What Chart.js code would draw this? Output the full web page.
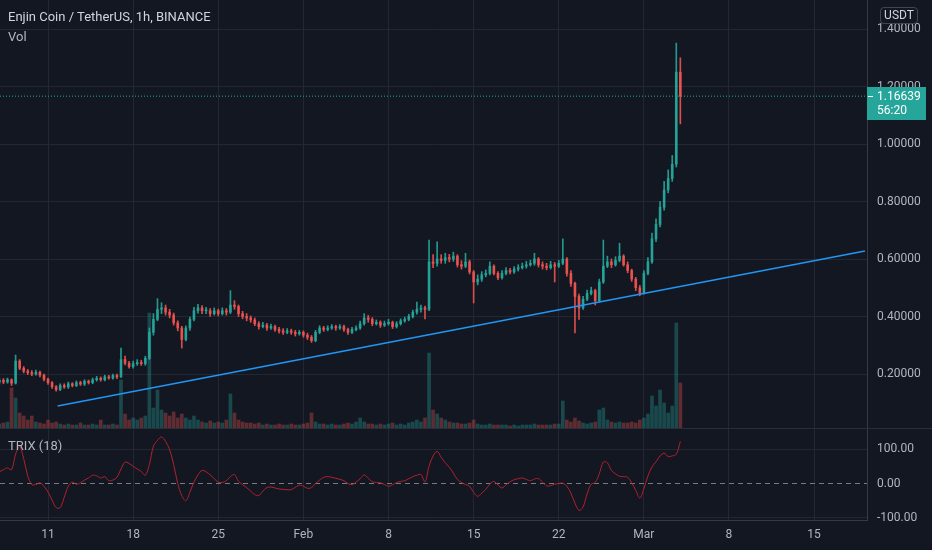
<!DOCTYPE html>
<html>
<head>
<meta charset="utf-8">
<title>ENJUSDT 1h</title>
<script src="https://cdn.jsdelivr.net/npm/chart.js@4.4.1/dist/chart.umd.min.js"></script>
<style>
  html, body { margin: 0; padding: 0; background: #131722; }
  #wrap { position: relative; width: 932px; height: 550px; overflow: hidden; background: #131722; font-family: Roboto, "Noto Sans", sans-serif; }
  #main { position: absolute; left: 0; top: 0; }
  #trix { position: absolute; left: 0; top: 428px; }
  .txt { position: absolute; white-space: nowrap; font-size: 13px; line-height: 16px; }
  #sep { position: absolute; left: 0; top: 428px; width: 932px; height: 1px; background: #2a2e39; }
  #unit { position: absolute; left: 880px; top: 7px; width: 36px; height: 15px; border: 1px solid #434651; border-radius: 4px;
          color: #d1d4dc; font-size: 12px; line-height: 15px; text-align: center; }
</style>
</head>
<body>
<div id="wrap">
  <canvas id="main" width="932" height="428"></canvas>
  <canvas id="trix" width="932" height="122"></canvas>
  <div id="sep"></div>
  <div class="txt" style="left:8px;top:9px;color:#d1d4dc;">Enjin Coin / TetherUS, 1h, BINANCE</div>
  <div class="txt" style="left:8px;top:29px;color:#b2b5be;">Vol</div>
  <div class="txt" style="left:8px;top:438px;color:#b2b5be;">TRIX (18)</div>
  <div id="unit">USDT</div>
</div>
<script>
// ENJ/USDT, 8h buckets (x = days since Jan 7)
var tickDays = [4, 11, 18, 25, 32, 39, 46, 53, 60, 67];
var tickLabels = ['11', '18', '25', 'Feb', '8', '15', '22', 'Mar', '8', '15'];
var priceTicks = [0.2, 0.4, 0.6, 0.8, 1.0, 1.2, 1.4];
var trixTicks = [-100, 0, 100];

var opens = [0.172,0.178,0.172,0.180,0.168,0.245,0.220,0.210,0.205,0.200,
 0.206,0.196,0.182,0.170,0.156,0.146,0.160,0.155,0.166,0.160,
 0.170,0.165,0.175,0.170,0.180,0.185,0.180,0.190,0.186,0.195,
 0.190,0.250,0.238,0.226,0.236,0.240,0.236,0.255,0.345,0.390,
 0.425,0.430,0.415,0.405,0.378,0.360,0.320,0.360,0.390,0.420,
 0.430,0.420,0.420,0.410,0.420,0.410,0.420,0.415,0.440,0.435,
 0.410,0.400,0.395,0.388,0.375,0.365,0.370,0.360,0.365,0.355,
 0.350,0.345,0.350,0.345,0.340,0.345,0.335,0.328,0.316,0.345,
 0.360,0.355,0.360,0.365,0.360,0.365,0.355,0.345,0.355,0.360,
 0.375,0.395,0.390,0.375,0.380,0.370,0.375,0.380,0.365,0.375,
 0.385,0.390,0.400,0.415,0.425,0.430,0.425,0.590,0.585,0.600,
 0.595,0.605,0.600,0.610,0.580,0.575,0.590,0.555,0.520,0.530,
 0.545,0.550,0.575,0.550,0.535,0.550,0.560,0.555,0.565,0.570,
 0.575,0.580,0.585,0.600,0.580,0.575,0.570,0.580,0.575,0.585,
 0.600,0.550,0.515,0.470,0.430,0.460,0.480,0.490,0.455,0.520,
 0.575,0.590,0.580,0.595,0.610,0.580,0.560,0.530,0.500,0.480,
 0.550,0.590,0.670,0.720,0.780,0.840,0.880,0.930,1.250];

var closes = [0.178,0.172,0.180,0.168,0.245,0.220,0.210,0.205,0.200,0.206,
 0.196,0.182,0.170,0.156,0.146,0.160,0.155,0.166,0.160,0.170,
 0.165,0.175,0.170,0.180,0.185,0.180,0.190,0.186,0.195,0.190,
 0.250,0.238,0.226,0.236,0.240,0.236,0.255,0.345,0.390,0.425,
 0.430,0.415,0.405,0.378,0.360,0.320,0.360,0.390,0.420,0.430,
 0.420,0.420,0.410,0.420,0.410,0.420,0.415,0.440,0.435,0.410,
 0.400,0.395,0.388,0.375,0.365,0.370,0.360,0.365,0.355,0.350,
 0.345,0.350,0.345,0.340,0.345,0.335,0.328,0.316,0.345,0.360,
 0.355,0.360,0.365,0.360,0.365,0.355,0.345,0.355,0.360,0.375,
 0.395,0.390,0.375,0.380,0.370,0.375,0.380,0.365,0.375,0.385,
 0.390,0.400,0.415,0.425,0.430,0.425,0.590,0.585,0.600,0.595,
 0.605,0.600,0.610,0.580,0.575,0.590,0.555,0.520,0.530,0.545,
 0.550,0.575,0.550,0.535,0.550,0.560,0.555,0.565,0.570,0.575,
 0.580,0.585,0.600,0.580,0.575,0.570,0.580,0.575,0.585,0.600,
 0.550,0.515,0.470,0.430,0.460,0.480,0.490,0.455,0.520,0.575,
 0.590,0.580,0.595,0.610,0.580,0.560,0.530,0.500,0.480,0.550,
 0.590,0.670,0.720,0.780,0.840,0.880,0.930,1.250,1.16639];

var highs = [0.185,0.184,0.186,0.183,0.266,0.250,0.226,0.216,0.212,0.214,
 0.210,0.200,0.186,0.174,0.160,0.166,0.166,0.172,0.170,0.176,
 0.175,0.180,0.179,0.186,0.192,0.190,0.196,0.195,0.200,0.200,
 0.290,0.262,0.244,0.245,0.250,0.248,0.262,0.360,0.410,0.462,
 0.448,0.440,0.425,0.412,0.385,0.366,0.368,0.398,0.432,0.442,
 0.438,0.432,0.428,0.430,0.426,0.430,0.428,0.490,0.455,0.440,
 0.418,0.410,0.402,0.395,0.382,0.380,0.376,0.374,0.370,0.362,
 0.358,0.358,0.356,0.352,0.352,0.350,0.342,0.334,0.352,0.368,
 0.366,0.368,0.372,0.370,0.372,0.370,0.360,0.362,0.368,0.384,
 0.410,0.404,0.396,0.388,0.385,0.384,0.390,0.384,0.382,0.392,
 0.398,0.408,0.422,0.450,0.440,0.436,0.666,0.615,0.660,0.615,
 0.620,0.616,0.624,0.615,0.594,0.620,0.596,0.560,0.545,0.556,
 0.562,0.590,0.580,0.556,0.560,0.570,0.568,0.574,0.580,0.586,
 0.592,0.596,0.620,0.605,0.590,0.585,0.592,0.588,0.595,0.670,
 0.605,0.560,0.520,0.478,0.470,0.492,0.502,0.495,0.530,0.666,
 0.610,0.600,0.608,0.655,0.615,0.590,0.565,0.536,0.508,0.560,
 0.605,0.690,0.740,0.800,0.870,0.910,0.960,1.351,1.300];

var lows = [0.165,0.166,0.168,0.160,0.165,0.215,0.204,0.198,0.194,0.196,
 0.190,0.176,0.164,0.150,0.140,0.142,0.150,0.150,0.155,0.156,
 0.160,0.160,0.165,0.166,0.175,0.175,0.176,0.182,0.182,0.184,
 0.188,0.232,0.220,0.220,0.230,0.230,0.230,0.250,0.335,0.385,
 0.410,0.405,0.395,0.370,0.350,0.290,0.315,0.352,0.385,0.412,
 0.410,0.410,0.400,0.405,0.402,0.405,0.405,0.410,0.425,0.400,
 0.392,0.385,0.380,0.368,0.356,0.360,0.352,0.355,0.348,0.342,
 0.338,0.340,0.338,0.332,0.335,0.328,0.320,0.310,0.312,0.340,
 0.348,0.350,0.355,0.352,0.355,0.348,0.338,0.340,0.350,0.355,
 0.370,0.380,0.368,0.370,0.362,0.365,0.370,0.358,0.360,0.370,
 0.380,0.385,0.395,0.408,0.415,0.392,0.420,0.570,0.575,0.585,
 0.585,0.590,0.592,0.572,0.565,0.570,0.548,0.447,0.510,0.522,
 0.538,0.545,0.545,0.528,0.530,0.545,0.548,0.550,0.558,0.565,
 0.568,0.575,0.578,0.572,0.565,0.562,0.565,0.520,0.570,0.580,
 0.540,0.505,0.343,0.390,0.425,0.455,0.475,0.440,0.450,0.515,
 0.570,0.570,0.575,0.590,0.575,0.552,0.522,0.490,0.472,0.478,
 0.545,0.585,0.660,0.712,0.770,0.830,0.870,0.920,1.070];

// volume, in 100k ENJ
var volumes = [4,5,6,40,30,15,12,8,12,6,
 5,4,8,5,6,4,3,4,3,3,
 5,3,3,4,3,8,3,3,4,3,
 48,14,8,10,8,10,12,115,20,38,
 18,15,12,16,10,14,10,8,12,8,
 6,5,7,5,6,5,8,34,15,8,
 6,5,5,4,5,3,4,3,3,4,
 3,3,4,3,3,4,5,15,6,4,
 4,3,4,3,3,4,5,4,6,10,
 6,4,4,3,4,3,4,5,3,4,
 3,5,6,8,6,10,75,18,14,10,
 8,6,5,5,4,4,5,8,4,3,
 3,4,3,3,3,3,2,3,2,3,
 3,3,4,3,3,3,3,4,4,27,
 8,6,10,7,5,4,5,6,18,20,
 8,6,5,6,5,5,6,5,8,10,
 14,32,22,38,25,15,22,105,45];

var trix = [34,40,45,40,85,107,72,22,-3,-3,
 2,-8,-25,-48,-70,-70,-40,-8,4,-2,
 2,10,16,24,22,16,20,8,10,18,
 42,62,58,50,42,35,24,55,108,125,
 135,122,98,55,0,-35,-50,-25,4,25,
 38,34,25,14,4,3,8,20,26,6,
 -3,-12,-22,-32,-35,-22,-12,-10,-13,-16,
 -17,-18,-18,-11,-5,-8,-14,-12,0,10,
 18,20,18,15,12,8,0,-3,4,14,
 25,15,5,3,2,-3,-8,-4,3,6,
 8,14,20,24,26,5,50,80,93,76,
 60,47,30,12,3,-3,-8,-26,-37,-28,
 -17,-2,6,-4,-13,-4,5,11,14,16,
 12,8,13,14,4,-7,-6,-2,0,1,
 -8,-28,-57,-78,-68,-30,-2,3,28,62,
 60,38,28,21,20,18,2,-20,-42,-15,
 22,48,63,80,88,78,80,85,122];

// hand drawn trend line (days, price)
var trendDays = [4.79, 71.18];
var trendPrices = [0.089, 0.628];

var lastPrice = 1.16639;
var countdown = '56:20';

// view
var X_MIN = 0.05, X_MAX = 71.35;
var PRICE_MIN = 0.0122, PRICE_MAX = 1.5009;
var VOL_MAX = 428;
var TRIX_MIN = -105.8, TRIX_MAX = 160.9;
var AXIS_W = 65;

var UP = '#26a69a', DOWN = '#ef5350';
var GRID = '#232733', SEP = '#363a45', TXT = '#b2b5be';

Chart.defaults.font.family = 'Roboto, "Noto Sans", sans-serif';
Chart.defaults.font.size = 12;

var wickData = [], bodyData = [], volData = [], trixData = [];
var candleCol = [], volCol = [];
for (var i = 0; i < closes.length; i++) {
    var d = i / 3;
    wickData.push({ x: d, y: [lows[i], highs[i]] });
    bodyData.push({ x: d, y: [opens[i], closes[i]] });
    volData.push({ x: d, y: volumes[i] });
    trixData.push({ x: d, y: trix[i] });
    var up = closes[i] >= opens[i];
    candleCol.push(up ? 'rgba(38,166,154,0.9)' : 'rgba(239,83,80,0.9)');
    volCol.push(up ? 'rgba(38,166,154,0.35)' : 'rgba(239,83,80,0.35)');
}

function dayTicks(scale) {
    scale.ticks = tickDays.map(function (v) { return { value: v }; });
}

// keep the label paddings from shrinking the plot area
function noPad(s) {
    s.paddingTop = 0; s.paddingBottom = 0; s.paddingLeft = 0; s.paddingRight = 0;
}

function xAxis(showLabels) {
    return {
        type: 'linear', min: X_MIN, max: X_MAX,
        offset: false,
        afterBuildTicks: dayTicks,
        afterFit: function (s) { s.height = showLabels ? 30 : 0; noPad(s); },
        grid: { color: GRID, drawTicks: false, offset: false },
        border: { display: showLabels, color: SEP },
        ticks: {
            display: showLabels, color: TXT, padding: 8, maxRotation: 0, autoSkip: false,
            callback: function (v) { var k = tickDays.indexOf(v); return k < 0 ? '' : tickLabels[k]; }
        }
    };
}

function rightAxis(min, max, ticks, digits, gridColor) {
    return {
        position: 'right', min: min, max: max,
        afterBuildTicks: function (s) { s.ticks = ticks.map(function (v) { return { value: v }; }); },
        afterFit: function (s) { s.width = AXIS_W; noPad(s); },
        grid: { color: gridColor, drawTicks: false },
        border: { display: true, color: SEP },
        ticks: { color: TXT, padding: 10, callback: function (v) { return v.toFixed(digits); } }
    };
}

// last price tag on the price axis
var priceTag = {
    id: 'priceTag',
    afterDraw: function (chart) {
        var ctx = chart.ctx;
        var y = Math.round(chart.scales.y.getPixelForValue(lastPrice));
        var x0 = chart.chartArea.right;
        ctx.save();
        ctx.fillStyle = UP;
        ctx.fillRect(x0, y - 9, 59, 33);
        ctx.strokeStyle = '#ffffff';
        ctx.lineWidth = 1;
        ctx.beginPath();
        ctx.moveTo(x0 + 1, y + 0.5);
        ctx.lineTo(x0 + 6, y + 0.5);
        ctx.stroke();
        ctx.fillStyle = '#ffffff';
        ctx.font = '12px Roboto, "Noto Sans", sans-serif';
        ctx.textBaseline = 'middle';
        ctx.fillText(lastPrice.toFixed(5), x0 + 10, y + 1);
        ctx.fillText(countdown, x0 + 10, y + 15);
        ctx.restore();
    }
};

var mainChart = new Chart(document.getElementById('main').getContext('2d'), {
    type: 'bar',
    data: {
        datasets: [
            { type: 'line', data: [{ x: trendDays[0], y: trendPrices[0] }, { x: trendDays[1], y: trendPrices[1] }],
              borderColor: '#2196f3', borderWidth: 1.5, pointRadius: 0, order: 0 },
            { type: 'line', data: [{ x: X_MIN, y: lastPrice }, { x: X_MAX, y: lastPrice }],
              borderColor: UP, borderWidth: 1, borderDash: [1, 2], pointRadius: 0, order: 1 },
            { data: bodyData, backgroundColor: candleCol, barThickness: 2, grouped: false, minBarLength: 1, order: 2 },
            { data: wickData, backgroundColor: candleCol, barThickness: 1, grouped: false, order: 3 },
            { data: volData, backgroundColor: volCol, barThickness: 3, grouped: false, yAxisID: 'yv', order: 4 }
        ]
    },
    options: {
        responsive: false,
        animation: false,
        events: [],
        layout: { padding: 0 },
        plugins: { legend: { display: false }, tooltip: { enabled: false } },
        scales: {
            x: xAxis(false),
            y: rightAxis(PRICE_MIN, PRICE_MAX, priceTicks, 5, GRID),
            yv: { display: false, min: 0, max: VOL_MAX }
        }
    },
    plugins: [priceTag]
});

var trixChart = new Chart(document.getElementById('trix').getContext('2d'), {
    type: 'line',
    data: {
        datasets: [
            { data: trixData, borderColor: '#b2222e', borderWidth: 1, pointRadius: 0, tension: 0.35 },
            { data: [{ x: X_MIN, y: 0 }, { x: X_MAX, y: 0 }], borderColor: '#787b86', borderWidth: 1,
              borderDash: [5, 4], pointRadius: 0 }
        ]
    },
    options: {
        responsive: false,
        animation: false,
        events: [],
        layout: { padding: 0 },
        plugins: { legend: { display: false }, tooltip: { enabled: false } },
        scales: {
            x: xAxis(true),
            y: rightAxis(TRIX_MIN, TRIX_MAX, trixTicks, 2, function (c) {
                return c.tick && c.tick.value === 0 ? 'rgba(0,0,0,0)' : GRID;
            })
        }
    }
});
</script>
</body>
</html>
